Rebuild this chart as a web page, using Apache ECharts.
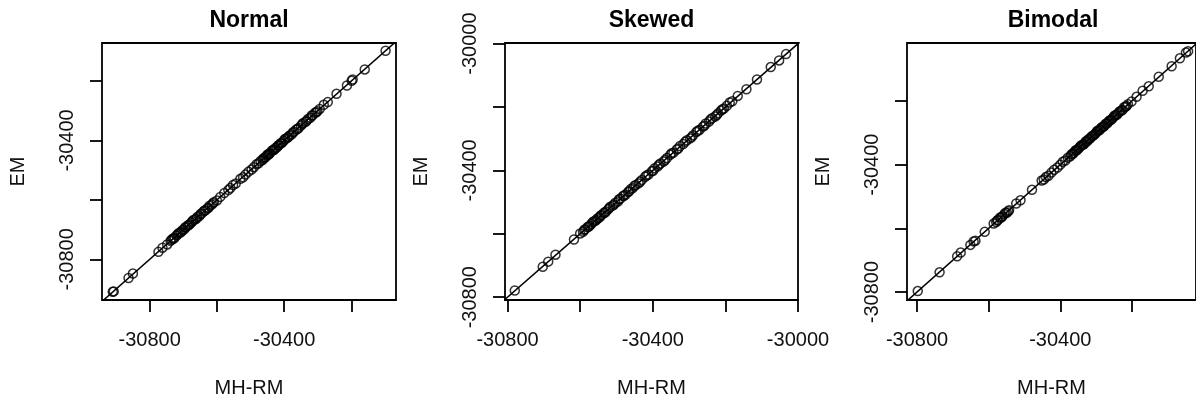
<!DOCTYPE html>
<html>
<head>
<meta charset="utf-8">
<script src="https://cdn.jsdelivr.net/npm/echarts@6/dist/echarts.min.js"></script>
<style>
html,body{margin:0;padding:0;background:#fff;}
#chart{width:1196px;height:403px;}
</style>
</head>
<body>
<div id="chart"></div>
<script>
const panelTitles = ['Normal', 'Skewed', 'Bimodal'];
const xAxisName = 'MH-RM';
const yAxisName = 'EM';

const normalMHRM = [-30910,-30907,-30863,-30850,-30774,-30762,-30748,-30738,
-30731,-30726,-30720,-30714,-30709,-30703,-30698,-30692,
-30687,-30681,-30676,-30670,-30664,-30659,-30652,-30646,
-30640,-30634,-30628,-30622,-30615,-30609,-30600,-30590,
-30578,-30566,-30560,-30552,-30544,-30530,-30522,-30515,
-30506,-30497,-30490,-30482,-30476,-30470,-30464,-30458,
-30452,-30447,-30442,-30437,-30431,-30426,-30421,-30416,
-30411,-30406,-30401,-30396,-30390,-30384,-30378,-30371,
-30364,-30357,-30350,-30343,-30336,-30329,-30322,-30315,
-30308,-30301,-30294,-30282,-30270,-30244,-30213,-30199,
-30196,-30160,-30098,
-30735,-30728,-30717,-30706,-30695,-30684,-30673,-30661,
-30649,-30637,-30625,-30612,-30462,-30455,-30449,-30444,
-30434,-30428,-30418,-30408,-30398,-30387,-30374,-30360,
-30346,-30333,-30318,-30304];
const normalEM = [-30909,-30908,-30863,-30848,-30775,-30761,-30750,-30738,
-30730,-30727,-30720,-30712,-30710,-30702,-30700,-30692,
-30686,-30682,-30676,-30668,-30665,-30658,-30654,-30646,
-30639,-30635,-30628,-30620,-30616,-30608,-30602,-30590,
-30577,-30567,-30560,-30550,-30545,-30529,-30524,-30515,
-30505,-30498,-30490,-30480,-30477,-30469,-30466,-30458,
-30451,-30448,-30442,-30435,-30432,-30425,-30423,-30416,
-30410,-30407,-30401,-30394,-30391,-30383,-30380,-30371,
-30363,-30358,-30350,-30341,-30337,-30328,-30324,-30315,
-30307,-30302,-30294,-30280,-30271,-30243,-30215,-30199,
-30195,-30161,-30098,
-30734,-30730,-30716,-30707,-30693,-30685,-30672,-30663,
-30648,-30636,-30627,-30611,-30461,-30456,-30447,-30445,
-30433,-30430,-30417,-30409,-30396,-30388,-30373,-30362,
-30345,-30334,-30316,-30305];

const skewedMHRM = [-30780,-30703,-30688,-30668,-30617,-30600,-30592,-30586,
-30580,-30574,-30569,-30563,-30558,-30552,-30547,-30541,
-30535,-30529,-30523,-30517,-30510,-30503,-30496,-30489,
-30482,-30475,-30468,-30461,-30455,-30447,-30439,-30430,
-30421,-30412,-30403,-30395,-30387,-30379,-30370,-30361,
-30352,-30343,-30334,-30325,-30316,-30306,-30297,-30289,
-30280,-30271,-30262,-30254,-30245,-30236,-30228,-30220,
-30212,-30204,-30196,-30188,-30181,-30166,-30142,-30113,
-30075,-30052,-30033,
-30589,-30577,-30566,-30555,-30544,-30532,-30520,-30507,
-30493,-30479,-30465,-30451,-30435,-30417,-30399,-30383,
-30366,-30348,-30330,-30311,-30293,-30276,-30258,-30241,
-30224,-30208];
const skewedEM = [-30779,-30704,-30688,-30666,-30618,-30599,-30594,-30586,
-30579,-30575,-30569,-30561,-30559,-30551,-30549,-30541,
-30534,-30530,-30523,-30515,-30511,-30502,-30498,-30489,
-30481,-30476,-30468,-30459,-30456,-30446,-30441,-30430,
-30420,-30413,-30403,-30393,-30388,-30378,-30372,-30361,
-30351,-30344,-30334,-30323,-30317,-30305,-30299,-30289,
-30279,-30272,-30262,-30252,-30246,-30235,-30230,-30220,
-30211,-30205,-30196,-30186,-30182,-30165,-30144,-30113,
-30074,-30053,-30033,
-30588,-30578,-30564,-30556,-30543,-30534,-30519,-30508,
-30491,-30480,-30466,-30449,-30436,-30416,-30401,-30382,
-30367,-30346,-30331,-30310,-30295,-30275,-30259,-30239,
-30225,-30207];

const bimodalMHRM = [-30798,-30737,-30688,-30678,-30651,-30642,-30637,-30611,
-30586,-30579,-30574,-30568,-30562,-30556,-30549,-30543,
-30523,-30511,-30479,-30452,-30446,-30440,-30433,-30425,
-30417,-30408,-30400,-30393,-30386,-30379,-30372,-30366,
-30360,-30354,-30348,-30342,-30336,-30330,-30325,-30319,
-30313,-30307,-30301,-30295,-30289,-30283,-30277,-30271,
-30265,-30259,-30253,-30247,-30240,-30233,-30226,-30218,
-30211,-30201,-30187,-30170,-30153,-30125,-30089,-30066,
-30049,-30043,
-30576,-30565,-30553,-30545,-30369,-30363,-30357,-30351,
-30345,-30339,-30333,-30327,-30322,-30316,-30310,-30304,
-30298,-30292,-30286,-30280,-30274,-30268,-30262,-30256,
-30250,-30243,-30236,-30229,-30222,-30215];
const bimodalEM = [-30797,-30738,-30688,-30676,-30652,-30641,-30639,-30611,
-30585,-30580,-30574,-30566,-30563,-30555,-30551,-30543,
-30522,-30512,-30479,-30450,-30447,-30439,-30435,-30425,
-30416,-30409,-30400,-30391,-30387,-30378,-30374,-30366,
-30359,-30355,-30348,-30340,-30337,-30329,-30327,-30319,
-30312,-30308,-30301,-30293,-30290,-30282,-30279,-30271,
-30264,-30260,-30253,-30245,-30241,-30232,-30228,-30218,
-30210,-30202,-30187,-30168,-30154,-30124,-30091,-30066,
-30048,-30044,
-30575,-30566,-30551,-30546,-30368,-30364,-30355,-30352,
-30344,-30338,-30335,-30326,-30321,-30317,-30309,-30305,
-30296,-30293,-30285,-30281,-30272,-30269,-30261,-30257,
-30248,-30244,-30235,-30230,-30220,-30216];

// axis ranges (R's 4% extended ranges)
const normalXRange = [-30942, -30067];
const normalYRange = [-30937, -30072];
const skewedXRange = [-30807, -30000];
const skewedYRange = [-30809, -29998];
const bimodalXRange = [-30828, -30021];
const bimodalYRange = [-30825, -30018];

// tick positions and tick labels
const normalTicks = [-30800, -30600, -30400, -30200];
const normalLabels = [-30800, -30400];
const skewedTicks = [-30800, -30600, -30400, -30200, -30000];
const skewedLabels = [-30800, -30400, -30000];
const bimodalTicks = [-30800, -30600, -30400, -30200];
const bimodalLabels = [-30800, -30400];

// identity line y = x
const identityLine = [[-31000, -31000], [-29900, -29900]];

const panels = [
  {x: normalMHRM, y: normalEM, xr: normalXRange, yr: normalYRange, ticks: normalTicks, labels: normalLabels},
  {x: skewedMHRM, y: skewedEM, xr: skewedXRange, yr: skewedYRange, ticks: skewedTicks, labels: skewedLabels},
  {x: bimodalMHRM, y: bimodalEM, xr: bimodalXRange, yr: bimodalYRange, ticks: bimodalTicks, labels: bimodalLabels}
];

const layout = [
  {left: 102, top: 43, width: 294, height: 261},
  {left: 505, top: 43, width: 293, height: 261},
  {left: 907, top: 43, width: 292, height: 261}
];

const FONT = 'Liberation Sans, Arial, Helvetica, sans-serif';
const fmt = v => String(v);

const grid = [], xAxis = [], yAxis = [], series = [], graphic = [];
panels.forEach((p, i) => {
  const L = layout[i];
  grid.push({left: L.left, top: L.top, width: L.width, height: L.height,
    show: true, borderColor: '#000', borderWidth: 1.8, backgroundColor: 'transparent', containLabel: false});
  xAxis.push({
    type: 'value', gridIndex: i, min: p.xr[0], max: p.xr[1],
    name: xAxisName, nameLocation: 'middle', nameGap: 78,
    nameTextStyle: {fontFamily: FONT, fontSize: 20, color: '#111'},
    axisLine: {show: false},
    splitLine: {show: false},
    axisTick: {show: true, inside: false, length: 12, customValues: p.ticks, lineStyle: {color: '#000', width: 1.8}},
    axisLabel: {show: true, customValues: p.labels, formatter: fmt, margin: 30,
      fontFamily: FONT, fontSize: 20, color: '#111'}
  });
  yAxis.push({
    type: 'value', gridIndex: i, min: p.yr[0], max: p.yr[1],
    name: yAxisName, nameLocation: 'middle', nameGap: 74,
    nameTextStyle: {fontFamily: FONT, fontSize: 20, color: '#111'},
    axisLine: {show: false},
    splitLine: {show: false},
    axisTick: {show: true, inside: false, length: 12, customValues: p.ticks, lineStyle: {color: '#000', width: 1.8}},
    axisLabel: {show: true, customValues: p.labels, formatter: fmt, margin: 25, rotate: 90,
      fontFamily: FONT, fontSize: 20, color: '#111'}
  });
  series.push({
    type: 'line', xAxisIndex: i, yAxisIndex: i, data: identityLine,
    showSymbol: false, symbol: 'none', clip: true, silent: true,
    lineStyle: {color: '#000', width: 1.5}, z: 1
  });
  series.push({
    type: 'scatter', xAxisIndex: i, yAxisIndex: i,
    data: p.x.map((v, k) => [v, p.y[k]]),
    symbol: 'circle', symbolSize: 9,
    itemStyle: {color: 'rgba(0,0,0,0)', borderColor: '#000', borderWidth: 1.5}, z: 2
  });
  graphic.push({
    type: 'text', x: L.left + L.width / 2, y: 21,
    style: {text: panelTitles[i], fontFamily: FONT, fontSize: 23, fontWeight: 'bold',
      fill: '#000', textAlign: 'center', textVerticalAlign: 'middle'}
  });
});

const chart = echarts.init(document.getElementById('chart'), null, {renderer: 'canvas'});
chart.setOption({
  animation: false,
  backgroundColor: '#fff',
  grid, xAxis, yAxis, series, graphic
});
</script>
</body>
</html>
